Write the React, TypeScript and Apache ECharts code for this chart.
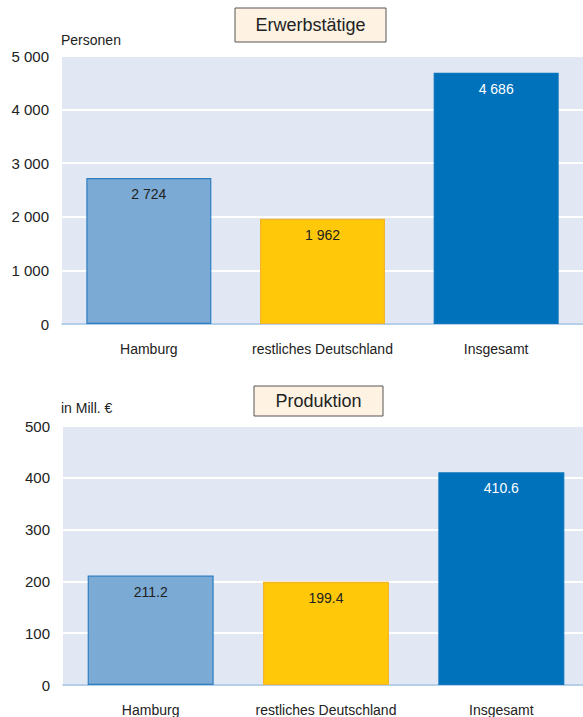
import React, { useEffect, useRef } from "react";
import * as echarts from "echarts";

const categories = ["Hamburg", "restliches Deutschland", "Insgesamt"];
const workersValues = [2724, 1962, 4686];
const productionValues = [211.2, 199.4, 410.6];
const workersTicks = { min: 0, max: 5000, interval: 1000 };
const productionTicks = { min: 0, max: 500, interval: 100 };
const titles = ["Erwerbstätige", "Produktion"];
const units = ["Personen", "in Mill. €"];

const barColors = ["#7BAAD4", "#FFC90A", "#0072BC"];
const barBorders = ["#2F7EC2", "#F2B52A", "#0A74BC"];
const labelColors = ["#222222", "#222222", "#ffffff"];

const FONT = "'Liberation Sans', Arial, sans-serif";

const fmtThousands = (v: number) =>
  String(Math.round(v)).replace(/\B(?=(\d{3})+(?!\d))/g, " ");

export default function App() {
  const ref = useRef<HTMLDivElement>(null);
  useEffect(() => {
    if (!ref.current) return;
    const chart = echarts.init(ref.current, undefined, { renderer: "svg" });

    const makeData = (vals: number[]) =>
      vals.map((v, i) => ({
        value: v,
        itemStyle: { color: barColors[i], borderColor: barBorders[i], borderWidth: 1.2 },
        label: { color: labelColors[i] },
      }));

    const xAxisCommon = {
      type: "category" as const,
      data: categories,
      axisLine: { show: true, lineStyle: { color: "#9DBFE0", width: 1.5 } },
      axisTick: { show: false },
      axisLabel: { color: "#222", fontSize: 14, fontFamily: FONT, margin: 18, interval: 0 },
    };
    const yAxisCommon = {
      type: "value" as const,
      axisLine: { show: false },
      axisTick: { show: false },
      splitLine: { show: true, lineStyle: { color: "#ffffff", width: 2 } },
      axisLabel: { color: "#222", fontSize: 15, fontFamily: FONT, margin: 13 },
    };

    const titleBox = (text: string, x: number, y: number, w: number, h: number) => ({
      type: "group",
      children: [
        {
          type: "rect",
          shape: { x, y, width: w, height: h },
          style: { fill: "#FEF2E2", stroke: "#555555", lineWidth: 1 },
        },
        {
          type: "text",
          x: x + w / 2,
          y: y + h / 2,
          style: {
            text,
            fill: "#222",
            font: `18px ${FONT}`,
            align: "center",
            verticalAlign: "middle",
          },
        },
      ],
    });

    chart.setOption({
      animation: false,
      grid: [
        { left: 62, width: 521, top: 56, height: 268, show: true, backgroundColor: "#E1E8F4", borderWidth: 0 },
        { left: 63, width: 526, top: 426, height: 260, show: true, backgroundColor: "#E1E8F4", borderWidth: 0 },
      ],
      xAxis: [
        { ...xAxisCommon, gridIndex: 0 },
        { ...xAxisCommon, gridIndex: 1 },
      ],
      yAxis: [
        {
          ...yAxisCommon,
          gridIndex: 0,
          ...workersTicks,
          axisLabel: { ...yAxisCommon.axisLabel, formatter: (v: number) => fmtThousands(v) },
        },
        { ...yAxisCommon, gridIndex: 1, ...productionTicks },
      ],
      series: [
        {
          type: "bar",
          xAxisIndex: 0,
          yAxisIndex: 0,
          barWidth: 125,
          data: makeData(workersValues),
          label: {
            show: true,
            position: "insideTop",
            distance: 9,
            fontSize: 14,
            fontFamily: FONT,
            formatter: (p: any) => fmtThousands(p.value),
          },
        },
        {
          type: "bar",
          xAxisIndex: 1,
          yAxisIndex: 1,
          barWidth: 126,
          data: makeData(productionValues),
          label: {
            show: true,
            position: "insideTop",
            distance: 9,
            fontSize: 14,
            fontFamily: FONT,
            formatter: (p: any) => Number(p.value).toFixed(1),
          },
        },
      ],
      graphic: [
        titleBox(titles[0], 235, 8, 151, 34),
        titleBox(titles[1], 254, 386, 129, 30),
        {
          type: "text",
          x: 61,
          y: 40,
          style: { text: units[0], fill: "#222", font: `14px ${FONT}`, verticalAlign: "middle" },
        },
        {
          type: "text",
          x: 61,
          y: 408,
          style: { text: units[1], fill: "#222", font: `14px ${FONT}`, verticalAlign: "middle" },
        },
      ],
    });
    return () => chart.dispose();
  }, []);

  return (
    <div
      style={{
        position: "fixed",
        left: 0,
        top: 0,
        width: 583,
        height: 717,
        overflow: "hidden",
        background: "#fff",
      }}
    >
      <div ref={ref} style={{ width: 595, height: 717 }} />
    </div>
  );
}
